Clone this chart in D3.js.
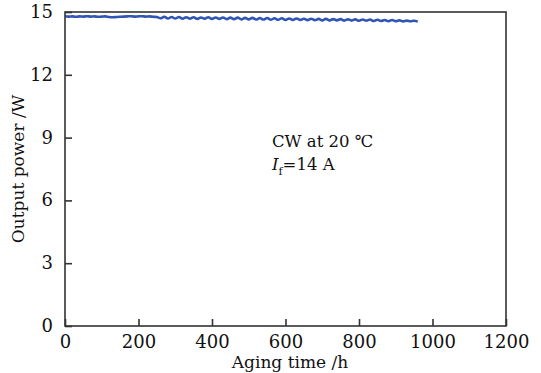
<!DOCTYPE html>
<html><head><meta charset="utf-8">
<script src="https://cdn.jsdelivr.net/npm/d3@7"></script>
<style>body{margin:0;background:#fff}svg{display:block}</style>
</head><body>
<script>
const hours = [0,10,20,30,40,50,60,70,80,90,100,110,120,130,140,150,160,170,180,190,200,210,220,230,240,250,
260,270,280,290,300,310,320,330,340,350,360,370,380,390,400,410,420,430,440,450,460,470,480,490,500,510,520,530,540,550,
560,570,580,590,600,610,620,630,640,650,660,670,680,690,700,710,720,730,740,750,760,770,780,790,800,810,820,830,840,850,
860,870,880,890,900,910,920,930,940,950,960];
const power = [14.80,14.78,14.79,14.77,14.79,14.78,14.80,14.78,14.79,14.77,14.78,14.79,14.76,14.75,14.76,14.77,14.78,14.79,14.80,14.78,14.79,14.80,14.78,14.79,14.77,14.76,
14.70,14.77,14.69,14.76,14.69,14.76,14.68,14.75,14.68,14.75,14.67,14.74,14.68,14.75,14.67,14.74,14.67,14.74,14.66,14.73,14.66,14.73,14.65,14.72,14.65,14.72,14.64,14.71,14.64,14.71,
14.63,14.70,14.63,14.70,14.62,14.69,14.62,14.69,14.62,14.68,14.61,14.68,14.61,14.67,14.60,14.67,14.60,14.66,14.60,14.66,14.59,14.65,14.59,14.65,14.58,14.64,14.58,14.64,14.57,14.63,
14.57,14.62,14.56,14.62,14.56,14.60,14.55,14.59,14.56,14.58,14.54];
const xTicks = [0,200,400,600,800,1000,1200];
const yTicks = [0,3,6,9,12,15];

const W=541,H=373, L=65,R=506,T=12,B=326;
const svg=d3.select("body").append("svg").attr("width",W).attr("height",H);
const x=d3.scaleLinear().domain([0,1200]).range([L,R]);
const y=d3.scaleLinear().domain([0,15]).range([B,T]);
const font="'DejaVu Serif','Liberation Serif',serif";

const line=d3.line().x((d,i)=>x(hours[i])).y(d=>y(d)).curve(d3.curveCardinal);
svg.append("path").datum(power).attr("d",line).attr("fill","none")
  .attr("stroke","#2f55b5").attr("stroke-width",2.6);

svg.append("rect").attr("x",L).attr("y",T).attr("width",R-L).attr("height",B-T)
  .attr("fill","none").attr("stroke","#333").attr("stroke-width",1.6);

const xa=svg.append("g").attr("transform",`translate(0,${B})`)
  .call(d3.axisBottom(x).tickValues(xTicks).tickSizeInner(-7).tickSizeOuter(0).tickPadding(11).tickFormat(d3.format("d")));
const ya=svg.append("g").attr("transform",`translate(${L},0)`)
  .call(d3.axisLeft(y).tickValues(yTicks).tickSizeInner(-7).tickSizeOuter(0).tickPadding(12).tickFormat(d3.format("d")));
[xa,ya].forEach(a=>{a.select(".domain").remove();
  a.selectAll("line").attr("stroke","#333").attr("stroke-width",1.6);
  a.selectAll("text").attr("font-family",font).attr("font-size",18).attr("fill","#111");});
ya.selectAll("text").attr("dy","0.3em");
xa.selectAll("text").attr("dy","0.6em");

svg.append("text").attr("x",290).attr("y",368).attr("text-anchor","middle")
  .attr("font-family",font).attr("font-size",17).attr("fill","#111").text("Aging time /h");
svg.append("text").attr("transform",`translate(24,${(T+B)/2}) rotate(-90)`).attr("text-anchor","middle")
  .attr("font-family",font).attr("font-size",17).attr("fill","#111").text("Output power /W");

svg.append("text").attr("x",272).attr("y",147).attr("font-family",font).attr("font-size",16.5).attr("fill","#111").text("CW at 20 ℃");
const t2=svg.append("text").attr("x",272).attr("y",170).attr("font-family",font).attr("font-size",16.5).attr("fill","#111");
t2.append("tspan").attr("font-style","italic").text("I");
t2.append("tspan").attr("font-size",11).attr("dy",5).text("f");
t2.append("tspan").attr("dy",-5).text("=14 A");
</script>
</body></html>
